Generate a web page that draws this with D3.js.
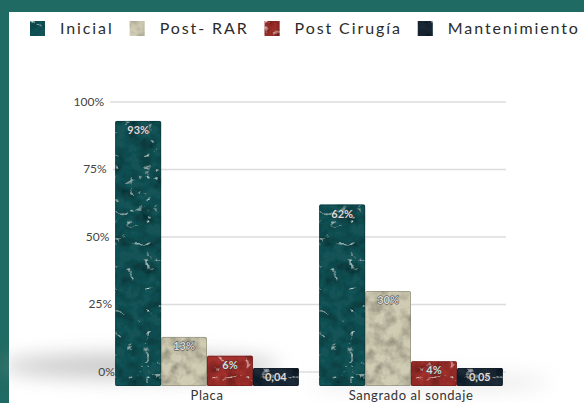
<!DOCTYPE html>
<html>
<head>
<meta charset="utf-8">
<script src="https://cdn.jsdelivr.net/npm/d3@7"></script>
<style>
  html, body { margin: 0; padding: 0; background: #1f6a62; }
  svg { display: block; }
  .legend text { font-family: Lato, "Open Sans", sans-serif; font-size: 16px; fill: #2b2b2b; letter-spacing: 1.9px; }
  .y-axis text { font-family: Lato, "Open Sans", sans-serif; font-size: 12px; fill: #444; }
  .cat-label { font-family: Lato, "Open Sans", sans-serif; font-size: 13px; fill: #333; letter-spacing: 0.6px; }
  .val-label { font-family: Lato, "Open Sans", sans-serif; font-size: 11px; font-weight: bold; fill: #dcdcdc; stroke: #333; stroke-width: 0.8px; paint-order: stroke; }
</style>
</head>
<body>
<svg id="chart"></svg>
<script>
// data
const categories = ['Placa', 'Sangrado al sondaje'];
const series = ['Inicial', 'Post- RAR', 'Post Cirugía', 'Mantenimiento'];
const placaValues = [0.93, 0.13, 0.06, 0.0004];
const sangradoValues = [0.62, 0.30, 0.04, 0.0005];
const placaLabels = ['93%', '13%', '6%', '0,04'];
const sangradoLabels = ['62%', '30%', '4%', '0,05'];
const yTicks = [0, 0.25, 0.5, 0.75, 1];
const yTickLabels = ['0%', '25%', '50%', '75%', '100%'];

// marble look per series: base colour, vein colour
const baseColors = ['#155357', '#d0ccb3', '#a3302d', '#1d2a37'];
const veinColors = ['#8cc6c0', '#6a6c64', '#dc9085', '#8d9dac'];

const width = 584, height = 403;
const padding = { top: 102, bottom: 372, left: 104, right: 506 };
const floorDrop = 14; // bars sit a little below the 0% line (3D floor)

const svg = d3.select('#chart').attr('width', width).attr('height', height);
const defs = svg.append('defs');

// white panel inside the teal frame
svg.append('rect')
    .attr('x', 9).attr('y', 12)
    .attr('width', width - 9).attr('height', height - 12)
    .attr('fill', '#ffffff');

// marble filters: soft mottling + thin veins
series.forEach((s, i) => {
    const f = defs.append('filter')
        .attr('id', 'marble' + i)
        .attr('x', 0).attr('y', 0).attr('width', 1).attr('height', 1);
    f.append('feTurbulence')
        .attr('type', 'fractalNoise')
        .attr('baseFrequency', 0.08)
        .attr('numOctaves', 3)
        .attr('seed', 11 + i)
        .attr('result', 'mottle');
    f.append('feColorMatrix')
        .attr('in', 'mottle')
        .attr('type', 'matrix')
        .attr('values', '0 0 0 0 0  0 0 0 0 0  0 0 0 0 0  1.2 0 0 0 -0.45')
        .attr('result', 'shade');
    f.append('feComposite')
        .attr('in', 'shade').attr('in2', 'SourceGraphic')
        .attr('operator', 'in')
        .attr('result', 'shadeIn');
    f.append('feTurbulence')
        .attr('type', 'turbulence')
        .attr('baseFrequency', '0.03 0.045')
        .attr('numOctaves', 4)
        .attr('seed', 3 + i * 7)
        .attr('result', 'noise');
    const c = d3.rgb(veinColors[i]);
    f.append('feColorMatrix')
        .attr('in', 'noise')
        .attr('type', 'matrix')
        .attr('values', `0 0 0 0 ${c.r / 255}  0 0 0 0 ${c.g / 255}  0 0 0 0 ${c.b / 255}  -6 0 0 0 0.8`)
        .attr('result', 'veins');
    f.append('feComposite')
        .attr('in', 'veins').attr('in2', 'SourceGraphic')
        .attr('operator', 'in')
        .attr('result', 'veinsIn');
    const m = f.append('feMerge');
    m.append('feMergeNode').attr('in', 'SourceGraphic');
    m.append('feMergeNode').attr('in', 'shadeIn');
    m.append('feMergeNode').attr('in', 'veinsIn');
});

const blur = defs.append('filter').attr('id', 'blur')
    .attr('x', -0.5).attr('y', -2).attr('width', 2).attr('height', 5);
blur.append('feGaussianBlur').attr('stdDeviation', 10);

// scales
const yScale = d3.scaleLinear().domain([0, 1]).range([padding.bottom, padding.top]);
const x0 = d3.scaleBand().domain(categories).range([105, 513]).paddingInner(0.1).paddingOuter(0.05);
const x1 = d3.scaleBand().domain(series).range([0, x0.bandwidth()]);

// slight perspective lean of the value axis
const lean = (v) => (yScale(v) - padding.top) * 0.04;

// floor shadow
svg.append('ellipse')
    .attr('cx', 140).attr('cy', 366).attr('rx', 140).attr('ry', 12)
    .attr('fill', '#999').attr('opacity', 0.55)
    .attr('filter', 'url(#blur)');
svg.append('ellipse')
    .attr('cx', 430).attr('cy', 382).attr('rx', 120).attr('ry', 7)
    .attr('fill', '#bbb').attr('opacity', 0.4)
    .attr('filter', 'url(#blur)');

// y axis + grid
const yAxis = svg.append('g')
    .attr('class', 'y-axis')
    .call(d3.axisLeft(yScale)
        .tickValues(yTicks)
        .tickFormat((d, i) => yTickLabels[i])
        .tickSize(0)
        .tickPadding(0));
yAxis.select('.domain').remove();
yAxis.selectAll('.tick')
    .attr('transform', d => `translate(${padding.left + lean(d)},${yScale(d)})`);
yAxis.selectAll('.tick line')
    .attr('x1', 6)
    .attr('x2', d => padding.right - padding.left - lean(d))
    .attr('stroke', '#dcdcdc')
    .attr('stroke-width', 1.6);

// bars
const rows = categories.map((c, ci) => ({
    cat: c,
    values: ci === 0 ? placaValues : sangradoValues,
    labels: ci === 0 ? placaLabels : sangradoLabels
}));

const barTop = (v) => Math.min(yScale(v), yScale(0) - 4);

const groups = svg.selectAll('.group')
    .data(rows)
    .enter()
    .append('g')
        .attr('class', 'group')
        .attr('transform', d => `translate(${x0(d.cat)},0)`);

const cells = (d) => d.values.map((v, i) => ({ s: series[i], i: i, v: v, label: d.labels[i] }));

groups.selectAll('.bar')
    .data(cells)
    .enter()
    .append('rect')
        .attr('class', 'bar')
        .attr('x', d => x1(d.s))
        .attr('width', x1.bandwidth())
        .attr('y', d => barTop(d.v))
        .attr('height', d => yScale(0) + floorDrop - barTop(d.v))
        .attr('rx', 1.5)
        .attr('fill', d => baseColors[d.i])
        .attr('filter', d => `url(#marble${d.i})`);

groups.selectAll('.bar-edge')
    .data(cells)
    .enter()
    .append('rect')
        .attr('class', 'bar-edge')
        .attr('x', d => x1(d.s) + 0.5)
        .attr('width', x1.bandwidth() - 1)
        .attr('y', d => barTop(d.v) + 0.5)
        .attr('height', d => yScale(0) + floorDrop - barTop(d.v) - 1)
        .attr('rx', 1.5)
        .attr('fill', 'none')
        .attr('stroke', d => d3.rgb(baseColors[d.i]).darker(1.2))
        .attr('stroke-opacity', 0.6);

groups.selectAll('.val-label')
    .data(cells)
    .enter()
    .append('text')
        .attr('class', 'val-label')
        .attr('x', d => x1(d.s) + x1.bandwidth() / 2)
        .attr('y', d => barTop(d.v) + 13)
        .attr('text-anchor', 'middle')
        .text(d => d.label);

// category labels
svg.selectAll('.cat-label')
    .data(categories)
    .enter()
    .append('text')
        .attr('class', 'cat-label')
        .attr('x', d => x0(d) + x0.bandwidth() / 2)
        .attr('y', 400)
        .attr('text-anchor', 'middle')
        .text(d => d);

// legend
const legend = svg.append('g').attr('class', 'legend');
let lx = 30;
series.forEach((s, i) => {
    legend.append('rect')
        .attr('x', lx).attr('y', 21)
        .attr('width', 15).attr('height', 15)
        .attr('fill', baseColors[i])
        .attr('filter', `url(#marble${i})`);
    const t = legend.append('text')
        .attr('x', lx + 30).attr('y', 34)
        .text(s);
    lx += 30 + t.node().getComputedTextLength() + 16;
});
</script>
</body>
</html>
